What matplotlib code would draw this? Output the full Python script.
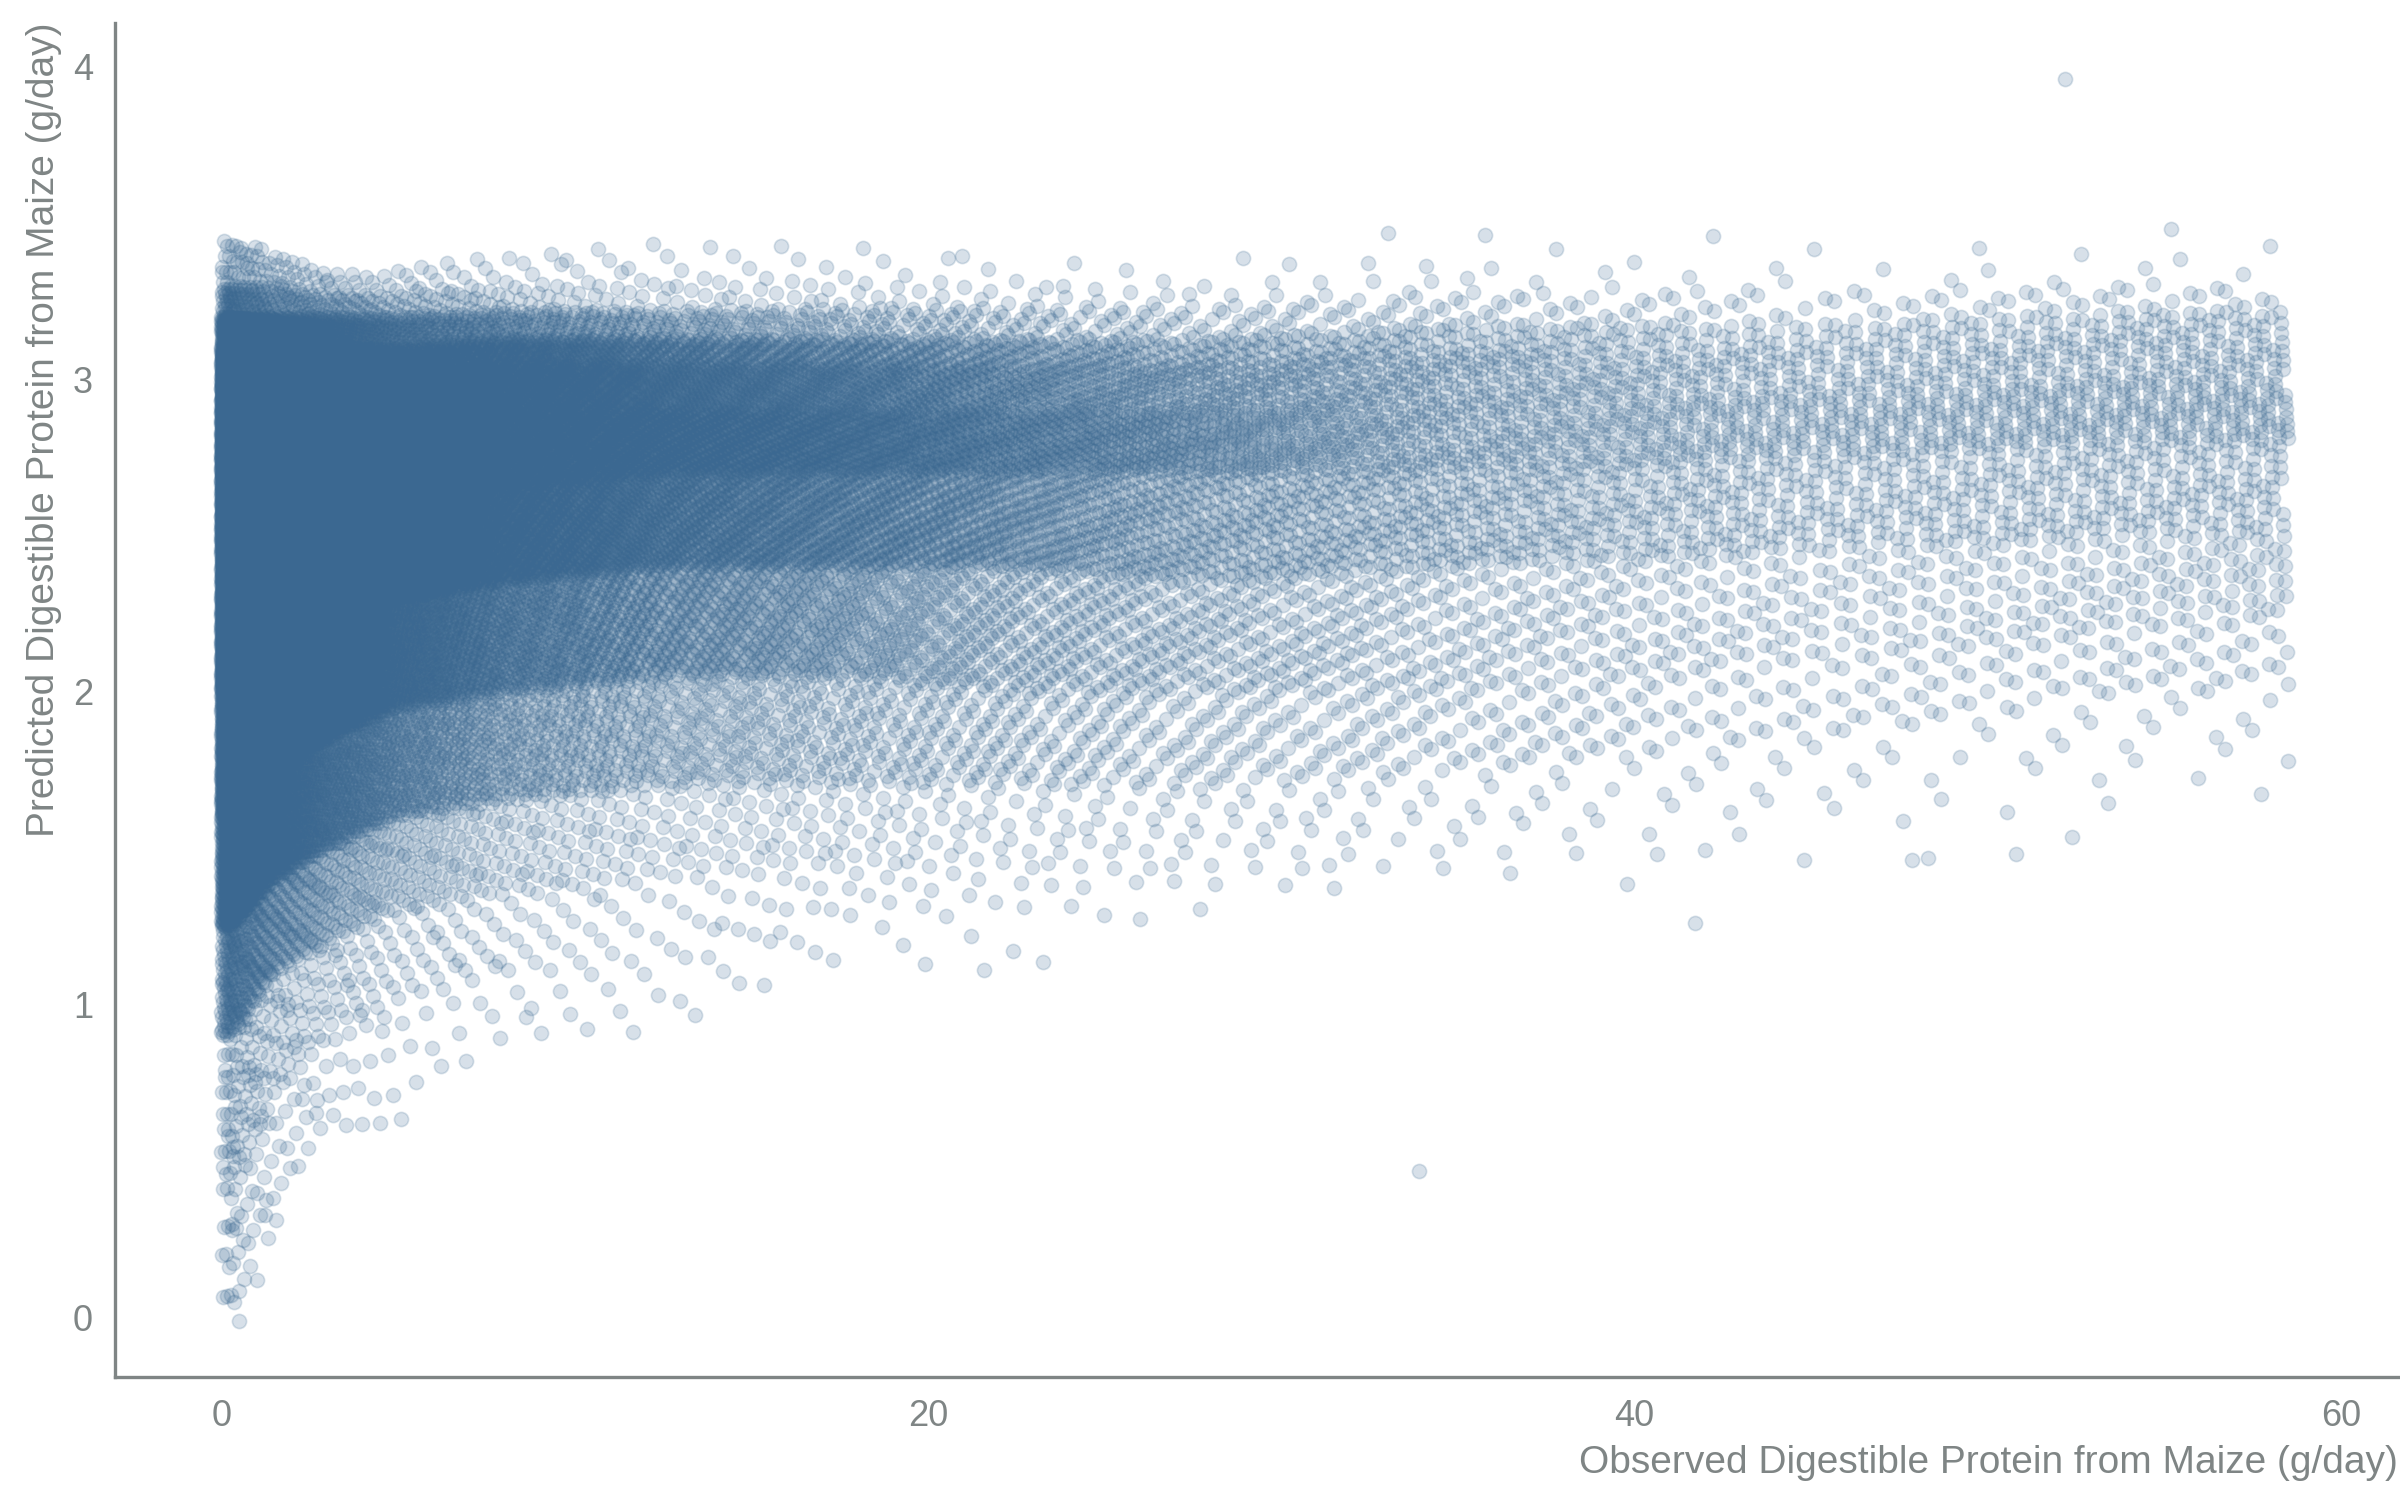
import numpy as np
import matplotlib.pyplot as plt

plt.rcParams['font.family'] = ['Liberation Sans', 'DejaVu Sans']

N_POINTS = 45000

# approximate point density (points per g/day) along x
dens_x = [0, 0.5, 1.5, 3, 5, 8, 12.5, 17.5, 22.5, 27.5, 35, 45, 54, 58.5]
dens_v = [12000, 9000, 5500, 3250, 2000, 1125, 700, 520, 340, 240, 150, 90, 100, 100]

# y quantiles of the cloud at a few x positions
q_x = [0.3, 1.5, 3, 5, 8, 12.5, 17.5, 22.5, 27.5, 35, 45, 54, 58.5]
q_levels = [0, 0.003, 0.01, 0.03, 0.1, 0.25, 0.5, 0.75, 0.9, 0.96, 0.99, 0.997, 1]
q_values = [
    [0.0, 0.4, 0.9, 1.25, 1.6, 2.0, 2.45, 2.8, 3.0, 3.1, 3.2, 3.3, 3.45],
    [0.3, 0.7, 1.1, 1.4, 1.75, 2.1, 2.5, 2.8, 3.0, 3.1, 3.2, 3.3, 3.4],
    [0.6, 0.9, 1.2, 1.5, 1.85, 2.2, 2.55, 2.85, 3.0, 3.1, 3.2, 3.27, 3.35],
    [0.6, 1.0, 1.3, 1.6, 1.95, 2.3, 2.6, 2.85, 3.0, 3.1, 3.2, 3.27, 3.35],
    [0.85, 1.1, 1.35, 1.65, 2.0, 2.35, 2.65, 2.9, 3.05, 3.13, 3.22, 3.3, 3.4],
    [0.9, 1.1, 1.4, 1.7, 2.05, 2.4, 2.7, 2.9, 3.05, 3.13, 3.22, 3.32, 3.45],
    [1.15, 1.3, 1.45, 1.7, 2.05, 2.4, 2.7, 2.9, 3.05, 3.13, 3.23, 3.33, 3.45],
    [1.1, 1.3, 1.45, 1.7, 2.0, 2.4, 2.7, 2.9, 3.05, 3.13, 3.23, 3.3, 3.4],
    [1.3, 1.4, 1.5, 1.7, 2.0, 2.35, 2.7, 2.9, 3.05, 3.13, 3.23, 3.3, 3.4],
    [1.4, 1.45, 1.55, 1.75, 2.0, 2.4, 2.7, 2.95, 3.1, 3.18, 3.28, 3.38, 3.5],
    [1.3, 1.5, 1.65, 1.85, 2.1, 2.45, 2.75, 2.95, 3.1, 3.18, 3.28, 3.36, 3.45],
    [1.55, 1.65, 1.8, 2.0, 2.2, 2.5, 2.8, 3.0, 3.15, 3.22, 3.3, 3.4, 3.5],
    [1.6, 1.7, 1.8, 2.0, 2.25, 2.5, 2.8, 3.0, 3.15, 3.22, 3.3, 3.38, 3.45],
]

# isolated points
out_x = [33.9, 52.2, 41.7, 21.6, 48.3, 0.5, 0.3, 1.0]
out_y = [0.47, 3.96, 1.26, 1.11, 1.47, -0.01, 0.28, 0.12]

# deterministic low-discrepancy layout (R2 sequence) mapped through the
# density and quantile tables above
i = np.arange(N_POINTS)
u = (0.5 + i * 0.7548776662466927) % 1
v = (0.5 + i * 0.5698402909980532) % 1

xg = np.linspace(0, 58.5, 3000)
cdf = np.cumsum(np.interp(xg, dens_x, dens_v))
cdf = (cdf - cdf[0]) / (cdf[-1] - cdf[0])
x = np.interp(u, cdf, xg)

qv = np.array(q_values)
L = np.array(q_levels)
Q = np.array([np.interp(x, q_x, qv[:, k]) for k in range(len(L))])
idx = np.clip(np.searchsorted(L, v) - 1, 0, len(L) - 2)
t = (v - L[idx]) / (L[idx + 1] - L[idx])
ar = np.arange(N_POINTS)
y = Q[idx, ar] + (Q[idx + 1, ar] - Q[idx, ar]) * t

x = np.concatenate([x, out_x])
y = np.concatenate([y, out_y])

grey = "#7f8585"
fig, ax = plt.subplots(figsize=(12, 7.5), dpi=200)
fig.subplots_adjust(left=0.048, right=0.999, bottom=0.082, top=0.985)

ax.scatter(x, y, s=26, color="#3b6891", alpha=0.2, linewidths=0.6,
           edgecolors=(0.23, 0.41, 0.57, 0.35))

ax.set_xlim(-3, 61.6)
ax.set_ylim(-0.19, 4.14)
ax.set_xticks([0, 20, 40, 60])
ax.set_yticks([0, 1, 2, 3, 4])
ax.tick_params(length=0, labelsize=13, labelcolor=grey, pad=8)
for s in ["top", "right"]:
    ax.spines[s].set_visible(False)
for s in ["left", "bottom"]:
    ax.spines[s].set_color(grey)
    ax.spines[s].set_linewidth(1.2)

ax.set_xlabel("Observed Digestible Protein from Maize (g/day)", fontsize=14,
              color=grey, loc="right")
ax.set_ylabel("Predicted Digestible Protein from Maize (g/day)", fontsize=14,
              color=grey, loc="top")

fig.savefig("out.png")
